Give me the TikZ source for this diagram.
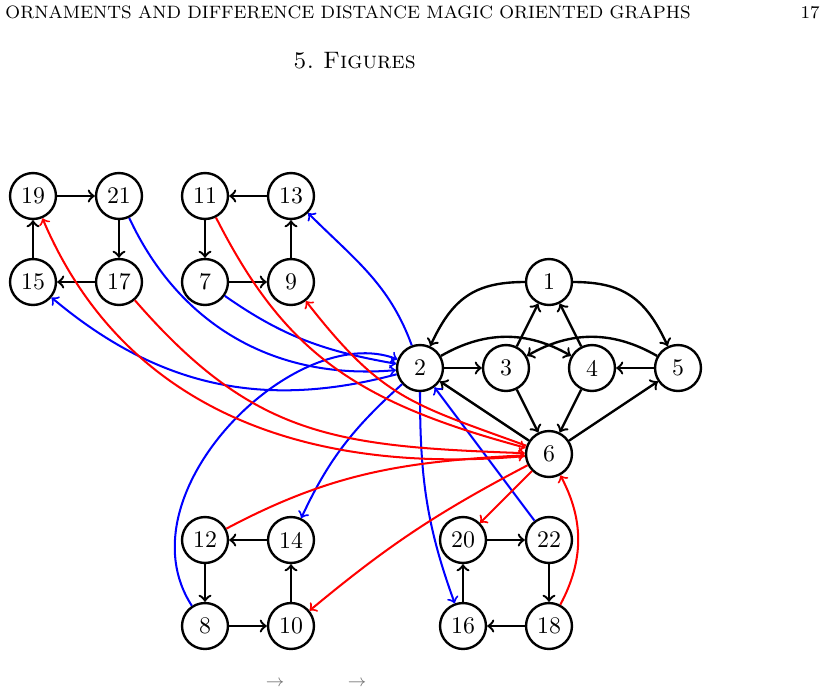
\documentclass[tikz,border=0pt]{standalone}
\usetikzlibrary{arrows}
\begin{document}
\begin{tikzpicture}[x=0.42pt,y=0.42pt]
\tikzset{
  v/.style={circle, draw, line width=1pt, minimum size=19.3pt, inner sep=0pt, font=\normalsize},
  be/.style={->, line width=1pt},
  bl/.style={->, blue, line width=0.85pt},
  rd/.style={->, red, line width=0.85pt},
  txt/.style={inner sep=0pt}
}
\useasboundingbox (0,0) rectangle (829,-690);
% header
\node[txt, anchor=base west, font=\fontsize{7.52}{9}\selectfont] (hdr) at (5,-18.5) {ORNAMENTS AND DIFFERENCE DISTANCE MAGIC ORIENTED GRAPHS};
\node[txt, anchor=base east, font=\fontsize{7.52}{9}\selectfont] (pg) at (820,-18.5) {17};
\node[txt, anchor=base, font=\normalsize\scshape] (sec) at (354.5,-68) {5.\ Figures};
% nodes
\node[v] (n19) at (33,-196) {19};
\node[v] (n21) at (119,-196) {21};
\node[v] (n11) at (205,-196) {11};
\node[v] (n13) at (291,-196) {13};
\node[v] (n15) at (33,-282) {15};
\node[v] (n17) at (119,-282) {17};
\node[v] (n7) at (205,-282) {7};
\node[v] (n9) at (291,-282) {9};
\node[v] (n1) at (549,-282) {1};
\node[v] (n2) at (420,-368) {2};
\node[v] (n3) at (506,-368) {3};
\node[v] (n4) at (592,-368) {4};
\node[v] (n5) at (678,-368) {5};
\node[v] (n6) at (549,-454) {6};
\node[v] (n12) at (205,-540) {12};
\node[v] (n14) at (291,-540) {14};
\node[v] (n20) at (463,-540) {20};
\node[v] (n22) at (549,-540) {22};
\node[v] (n8) at (205,-626) {8};
\node[v] (n10) at (291,-626) {10};
\node[v] (n16) at (463,-626) {16};
\node[v] (n18) at (549,-626) {18};
% black squares
\draw[be] (n19) -- (n21);
\draw[be] (n21) -- (n17);
\draw[be] (n17) -- (n15);
\draw[be] (n15) -- (n19);
\draw[be] (n13) -- (n11);
\draw[be] (n11) -- (n7);
\draw[be] (n7) -- (n9);
\draw[be] (n9) -- (n13);
\draw[be] (n14) -- (n12);
\draw[be] (n12) -- (n8);
\draw[be] (n8) -- (n10);
\draw[be] (n10) -- (n14);
\draw[be] (n20) -- (n22);
\draw[be] (n22) -- (n18);
\draw[be] (n18) -- (n16);
\draw[be] (n16) -- (n20);
% central graph
\draw[be] (n1) to[out=180,in=65,looseness=1.15] (n2);
\draw[be] (n1) to[out=0,in=115,looseness=1.15] (n5);
\draw[be] (n2) -- (n3);
\draw[be] (n2) to[bend left=30] (n4);
\draw[be] (n5) to[bend right=30] (n3);
\draw[be] (n3) -- (n1);
\draw[be] (n4) -- (n1);
\draw[be] (n5) -- (n4);
\draw[be] (n3) -- (n6);
\draw[be] (n4) -- (n6);
\draw[be] (n6) -- (n2);
\draw[be] (n6) -- (n5);
% blue
\draw[bl] (n21) to[out=-65,in=185] (n2);
\draw[bl] (n7) to[out=-35,in=170] (n2);
\draw[bl] (n8) to[out=123,in=159,out distance=56pt,in distance=46pt] (n2);
\draw[bl] (n2) to[out=195,in=-40] (n15);
\draw[bl] (n2) to[out=110,in=-45] (n13);
\draw[bl] (n2) to[out=222,in=65] (n14);
\draw[bl] (n2) to[out=-90,in=110] (n16);
\draw[bl] (n22) -- (n2);
% red
\draw[rd] (n11) to[out=-63,in=165,out distance=63pt,in distance=75pt] (n6);
\draw[rd] (n6) to[out=160,in=-52,looseness=1.2] (n9);
\draw[rd] (n6) to[out=185,in=-67,out distance=97pt,in distance=84pt] (n19);
\draw[rd] (n17) to[out=-49,in=178,out distance=76pt,in distance=80pt] (n6);
\draw[rd] (n12) to[out=28,in=183] (n6);
\draw[rd] (n6) to[bend right=6] (n10);
\draw[rd] (n6) -- (n20);
\draw[rd] (n18) to[bend right=28] (n6);
% bottom arrows
\node[txt, anchor=base, font=\fontsize{7}{8}\selectfont, text=black!55] (ar1) at (275,-686) {$\rightarrow$};
\node[txt, anchor=base, font=\fontsize{7}{8}\selectfont, text=black!55] (ar2) at (357,-686) {$\rightarrow$};
\end{tikzpicture}
\end{document}
